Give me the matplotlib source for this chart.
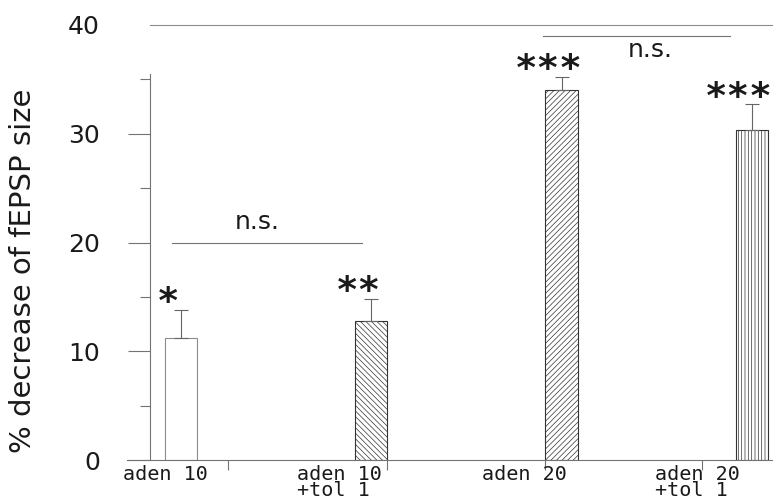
import matplotlib.pyplot as plt
import matplotlib as mpl

# values
groups = ["aden 10", "aden 10\n+tol 1", "aden 20", "aden 20\n+tol 1"]
means = [11.2, 12.8, 34.0, 30.3]
errors = [2.6, 2.0, 1.2, 2.4]
stars = ["*", "**", "***", "***"]
hatches = ["", "\\\\\\\\\\\\", "//////", "|||||"]
yticks = [0, 10, 20, 30, 40]

mpl.rcParams['hatch.linewidth'] = 0.5
mpl.rcParams['font.family'] = ['DejaVu Sans']

fig = plt.figure(figsize=(7.73, 5.03), dpi=100)
ax = fig.add_axes([150 / 773, 43 / 503, 623 / 773, 435 / 503])

xs = list(range(len(groups)))
width = 0.17
for i in xs:
    if hatches[i] == "":
        ax.bar(i, means[i], width, color='white', edgecolor='0.55', linewidth=0.8)
    else:
        ax.bar(i, means[i], width, color='white', edgecolor='0.2',
               hatch=hatches[i], linewidth=0.8)
    # only the upper half of the error bar is drawn
    ax.errorbar(i, means[i], yerr=[[0], [errors[i]]], fmt='none',
                ecolor='0.4', elinewidth=0.8, capsize=5, capthick=0.8)
    # mono font keeps the stars spread apart like the original
    ax.text(i - 0.07, means[i] + errors[i] - 0.3, stars[i], ha='center',
            va='baseline', fontsize=27, fontweight='bold', color='0.1',
            family='DejaVu Sans Mono')

# significance lines
ax.axhline(40, color='0.55', lw=0.8, clip_on=False)
ax.plot([-0.05, 0.95], [20, 20], color='0.45', lw=0.8)
ax.text(0.40, 21.9, "n.s.", ha='center', va='center', fontsize=18, color='0.1')
ax.plot([1.9, 2.885], [39, 39], color='0.45', lw=0.8)
ax.text(2.465, 37.7, "n.s.", ha='center', va='center', fontsize=18, color='0.1')

# x axis baseline, extends a bit left of the y axis
ax.plot([-0.285, 3.111], [0, 0], color='0.45', lw=0.8, clip_on=False)

ax.set_xlim(-0.163, 3.111)
ax.set_ylim(0, 40)

ax.spines['top'].set_visible(False)
ax.spines['right'].set_visible(False)
ax.spines['bottom'].set_visible(False)
ax.spines['left'].set_color('0.45')
ax.spines['left'].set_linewidth(0.8)
ax.spines['left'].set_bounds(0, 35.5)

ax.set_yticks(yticks)
ax.set_yticklabels([str(t) for t in yticks])
ax.set_yticks([5, 15, 25, 35], minor=True)
ax.tick_params(axis='y', which='major', length=16, width=0.8, color='0.45',
               pad=20, labelsize=18, labelcolor='0.1')
ax.tick_params(axis='y', which='minor', length=7, width=0.8, color='0.45')
# no tick mark at 40, only the label
ax.yaxis.get_major_ticks()[-1].tick1line.set_visible(False)

ax.set_xticks([0.247, 1.082, 1.912, 2.737])
ax.set_xticklabels([])
ax.tick_params(axis='x', length=7, width=0.8, color='0.45', direction='out')

# category labels, letter-spaced look with a mono font
label_left = [-0.305, 0.61, 1.582, 2.491]
for i in xs:
    ax.text(label_left[i], -0.45, groups[i], ha='left', va='top',
            fontsize=14.5, family='DejaVu Sans Mono', color='0.1',
            linespacing=0.8, clip_on=False)

fig.text(23 / 773, 1 - 271 / 503, "% decrease of fEPSP size", rotation=90,
         ha='center', va='center', fontsize=21, color='0.1')

fig.savefig("out.png", dpi=100)
